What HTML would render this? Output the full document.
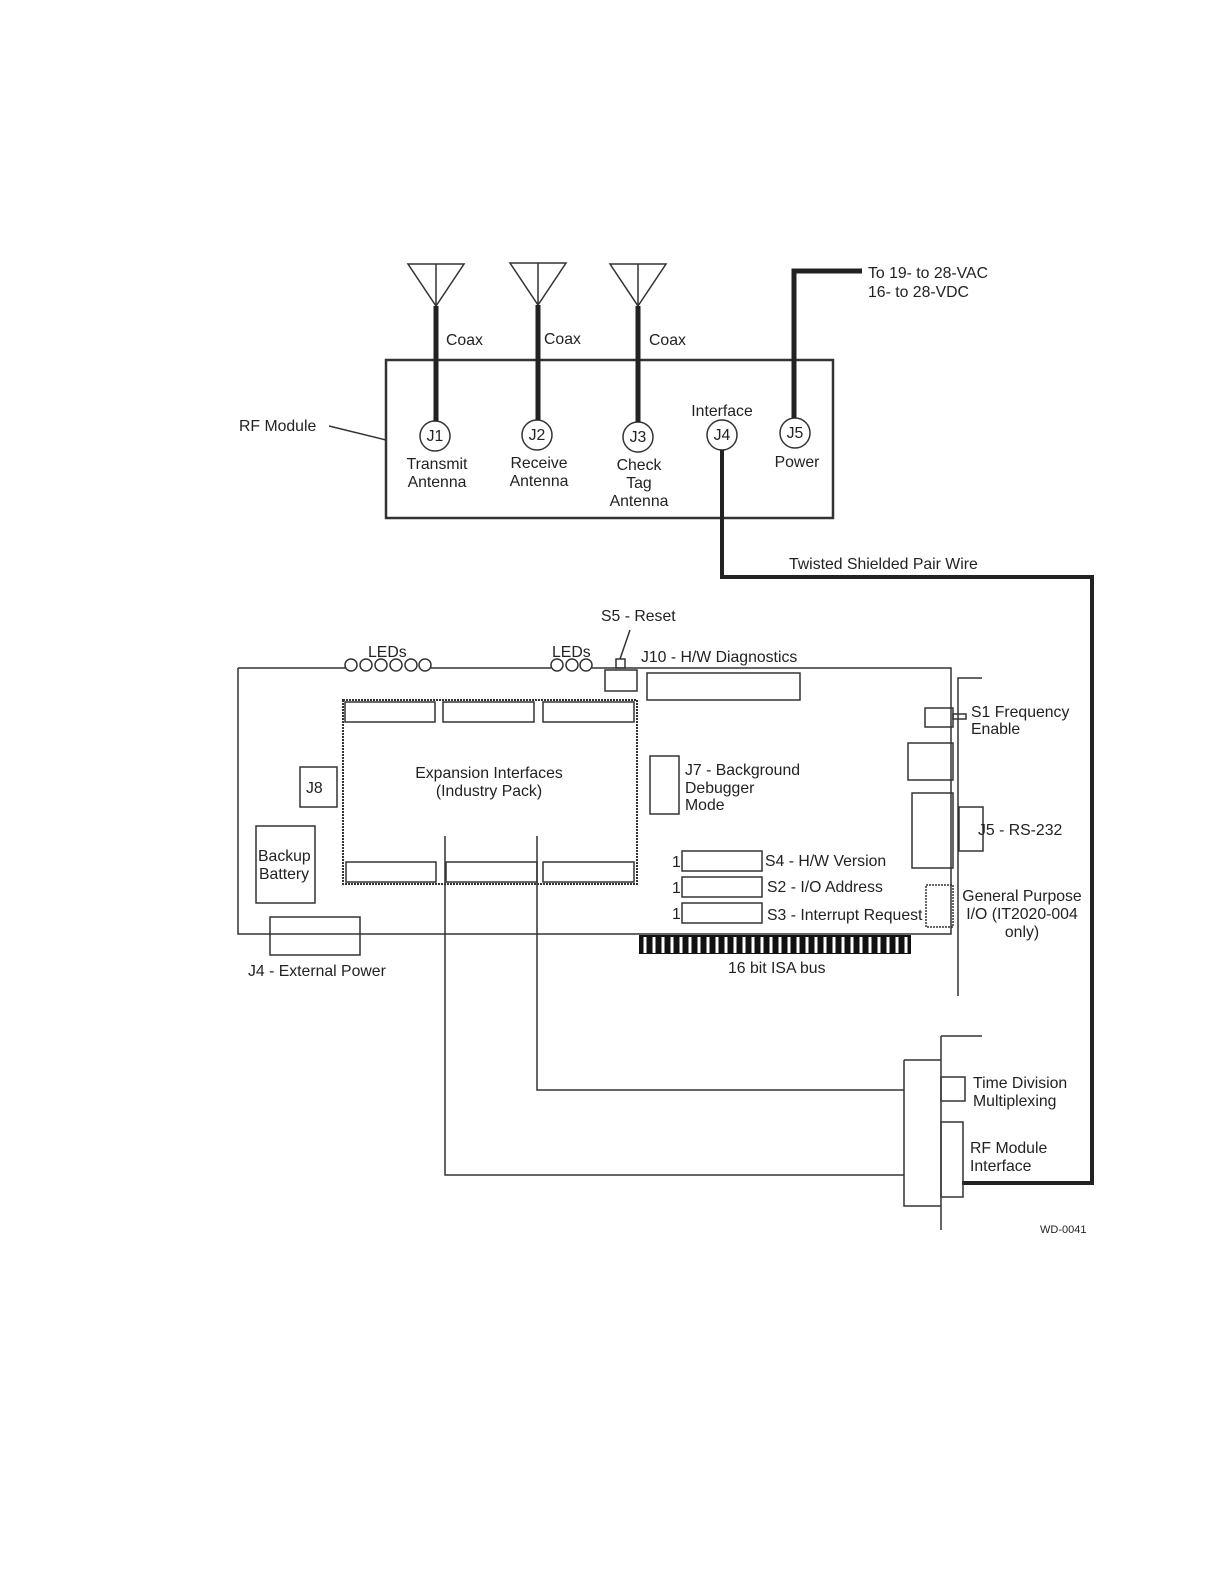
<!DOCTYPE html>
<html><head><style>html,body{margin:0;background:#fff;overflow:hidden}svg{display:block}text{font-family:"Liberation Sans",sans-serif;font-size:15.8px;fill:#222}</style></head><body>
<svg width="1222" height="1582" viewBox="0 0 1222 1582" xmlns="http://www.w3.org/2000/svg">
<g fill="none" stroke="#333" stroke-width="1.5">
<path d="M408 264 L464 264 L436 306 Z M436 264 V306"/>
<path d="M510 263 L566 263 L538 305 Z M538 263 V305"/>
<path d="M610 264 L666 264 L638 306 Z M638 264 V306"/>
<rect x="386" y="360" width="447" height="158" stroke-width="2.5"/>
<line x1="329" y1="426" x2="386" y2="440"/>
<circle cx="435" cy="436" r="15"/><circle cx="537" cy="435" r="15"/><circle cx="638" cy="437" r="15"/><circle cx="722" cy="435" r="15"/><circle cx="795" cy="433" r="15"/>
</g>
<g stroke="#222" stroke-width="5" fill="none">
<line x1="436" y1="306" x2="436" y2="421"/>
<line x1="538" y1="305" x2="538" y2="420"/>
<line x1="638" y1="306" x2="638" y2="422"/>
<path d="M794 418 V271 H862"/>
<path d="M722 450 V577 H1092 V1183 H962" stroke-width="4"/>
</g>
<text x="446" y="345">Coax</text><text x="544" y="344">Coax</text><text x="649" y="345">Coax</text>
<text x="868" y="278">To 19- to 28-VAC</text><text x="868" y="297">16- to 28-VDC</text>
<text x="239" y="431">RF Module</text>
<text x="435" y="441" text-anchor="middle">J1</text><text x="537" y="440" text-anchor="middle">J2</text><text x="638" y="442" text-anchor="middle">J3</text><text x="722" y="440" text-anchor="middle">J4</text><text x="795" y="438" text-anchor="middle">J5</text>
<text x="437" y="469" text-anchor="middle">Transmit</text><text x="437" y="487" text-anchor="middle">Antenna</text>
<text x="539" y="468" text-anchor="middle">Receive</text><text x="539" y="486" text-anchor="middle">Antenna</text>
<text x="639" y="470" text-anchor="middle">Check</text><text x="639" y="488" text-anchor="middle">Tag</text><text x="639" y="506" text-anchor="middle">Antenna</text>
<text x="722" y="416" text-anchor="middle">Interface</text><text x="797" y="467" text-anchor="middle">Power</text>
<text x="789" y="569">Twisted Shielded Pair Wire</text>

<g fill="none" stroke="#333" stroke-width="1.5">
<path d="M238 668 H346 M430 668 H551 M592 668 H951 V934 H238 V668"/>
<g><circle cx="351" cy="665" r="6"/><circle cx="366" cy="665" r="6"/><circle cx="381" cy="665" r="6"/><circle cx="396" cy="665" r="6"/><circle cx="411" cy="665" r="6"/><circle cx="425" cy="665" r="6"/><circle cx="557" cy="665" r="6"/><circle cx="572" cy="665" r="6"/><circle cx="586" cy="665" r="6"/></g>
<rect x="616" y="659" width="9" height="9"/><line x1="620" y1="659" x2="630" y2="630"/>
<rect x="605" y="670" width="32" height="21"/>
<rect x="647" y="673" width="153" height="27"/>
<rect x="343" y="700" width="294" height="184" stroke-dasharray="2 1" stroke-width="2"/>
<rect x="345" y="702" width="90" height="20"/><rect x="443" y="702" width="91" height="20"/><rect x="543" y="702" width="91" height="20"/>
<rect x="346" y="862" width="90" height="20"/><rect x="446" y="862" width="91" height="20"/><rect x="543" y="862" width="91" height="20"/>
<rect x="300" y="767" width="37" height="40"/>
<rect x="256" y="826" width="59" height="77"/>
<rect x="270" y="917" width="90" height="38"/>
<rect x="650" y="756" width="29" height="58"/>
<rect x="682" y="851" width="80" height="20"/><rect x="682" y="877" width="80" height="20"/><rect x="682" y="903" width="80" height="20"/>
<rect x="925" y="708" width="28" height="19"/><rect x="953" y="714" width="13" height="5"/>
<rect x="908" y="743" width="45" height="37"/>
<rect x="912" y="793" width="41" height="75"/>
<rect x="959" y="807" width="24" height="44"/>
<rect x="926" y="885" width="27" height="42" stroke-dasharray="2 1"/>
<path d="M958 996 V678 H982"/>
<path d="M445 836 V1175 H904 M537 836 V1090 H904"/>
<path d="M904 1060 H941 M941 1036 H982 M941 1036 V1230 M904 1060 V1206 H941"/>
<rect x="941" y="1077" width="24" height="24"/>
<rect x="941" y="1122" width="22" height="75"/>
</g>
<rect x="639" y="935" width="272" height="19" fill="#111"/>
<g stroke="#fff" stroke-width="3">
<path d="M645 937V953M654 937V953M663 937V953M672 937V953M681 937V953M690 937V953M699 937V953M708 937V953M717 937V953M726 937V953M735 937V953M744 937V953M753 937V953M762 937V953M771 937V953M780 937V953M789 937V953M798 937V953M807 937V953M816 937V953M825 937V953M834 937V953M843 937V953M852 937V953M861 937V953M870 937V953M879 937V953M888 937V953M897 937V953M906 937V953"/>
</g>
<text x="368" y="657">LEDs</text><text x="552" y="657">LEDs</text>
<text x="601" y="621">S5 - Reset</text>
<text x="641" y="662">J10 - H/W Diagnostics</text>
<text x="489" y="778" text-anchor="middle">Expansion Interfaces</text><text x="489" y="796" text-anchor="middle">(Industry Pack)</text>
<text x="306" y="793">J8</text>
<text x="258" y="861">Backup</text><text x="259" y="879">Battery</text>
<text x="248" y="976">J4 - External Power</text>
<text x="685" y="775">J7 - Background</text><text x="685" y="793">Debugger</text><text x="685" y="810">Mode</text>
<text x="672" y="867">1</text><text x="672" y="893">1</text><text x="672" y="919">1</text>
<text x="765" y="866">S4 - H/W Version</text><text x="767" y="892">S2 - I/O Address</text><text x="767" y="920">S3 - Interrupt Request</text>
<text x="728" y="973">16 bit ISA bus</text>
<text x="971" y="717">S1 Frequency</text><text x="971" y="734">Enable</text>
<text x="978" y="835">J5 - RS-232</text>
<text x="1022" y="901" text-anchor="middle">General Purpose</text><text x="1022" y="919" text-anchor="middle">I/O (IT2020-004</text><text x="1022" y="937" text-anchor="middle">only)</text>
<text x="973" y="1088">Time Division</text><text x="973" y="1106">Multiplexing</text>
<text x="970" y="1153">RF Module</text><text x="970" y="1171">Interface</text>
<text x="1040" y="1233" style="font-size:11px">WD-0041</text>
</svg>
</body></html>
